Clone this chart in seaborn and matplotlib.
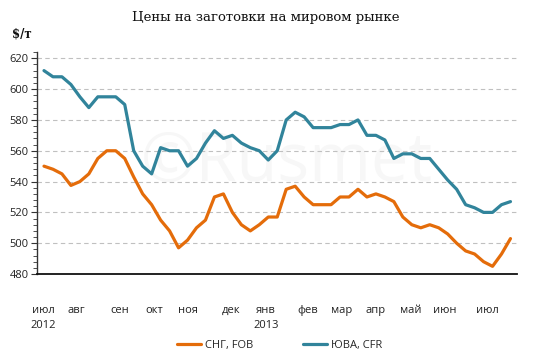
import numpy as np
import pandas as pd
import matplotlib
matplotlib.use("Agg")
import matplotlib.pyplot as plt
import seaborn as sns
from matplotlib.ticker import MultipleLocator

# weekly prices, $/t, July 2012 - July 2013
cis_fob = [550, 548, 545, 537.5, 540, 545, 555, 560, 560, 555,
           543, 532, 525, 515, 508, 497, 502, 510, 515, 530,
           532, 520, 512, 508, 512, 517, 517, 535, 537, 530,
           525, 525, 525, 530, 530, 535, 530, 532, 530, 527,
           517, 512, 510, 512, 510, 506, 500, 495, 493, 488,
           485, 493, 503]
sea_cfr = [612, 608, 608, 603, 595, 588, 595, 595, 595, 590,
           560, 550, 545, 562, 560, 560, 550, 555, 565, 573,
           568, 570, 565, 562, 560, 554, 560, 580, 585, 582,
           575, 575, 575, 577, 577, 580, 570, 570, 567, 555,
           558, 558, 555, 555, 548, 541, 535, 525, 523, 520,
           520, 525, 527]
month_pos = [-0.1, 3.64, 8.43, 12.26, 16.04, 20.84, 24.74, 29.42, 33.2,
             36.99, 40.9, 44.68, 49.47]
month_labels = ["июл\n2012", "авг", "сен", "окт", "ноя", "дек", "янв\n2013",
                "фев", "мар", "апр", "май", "июн", "июл"]
series_names = ["СНГ, FOB", "ЮВА, CFR"]
colors = ["#E46C0A", "#31849B"]

weeks = np.arange(len(cis_fob))
df = pd.DataFrame({
    "week": np.concatenate([weeks, weeks]),
    "price": cis_fob + sea_cfr,
    "series": [series_names[0]] * len(cis_fob) + [series_names[1]] * len(sea_cfr),
})

sns.set_theme(style="white")
plt.rcParams["font.family"] = ["Open Sans", "DejaVu Sans"]

fig = plt.figure(figsize=(5.48, 3.62), dpi=100)
ax = fig.add_axes([0.068, 0.243, 0.875, 0.613])

# faint watermark
ax.text(0.52, 0.5, "©Rusmet", transform=ax.transAxes, fontsize=48,
        color="#f7f7f7", ha="center", va="center", zorder=0)

sns.lineplot(data=df, x="week", y="price", hue="series", palette=colors,
             linewidth=2.3, ax=ax, legend=False, zorder=3)

ax.set_xlim(-0.75, 52.7)
ax.set_ylim(480, 624)
ax.yaxis.set_major_locator(MultipleLocator(20))
ax.yaxis.set_minor_locator(MultipleLocator(4))
ax.set_xticks(month_pos)
ax.set_xticklabels(month_labels, fontsize=8, color="#222222", linespacing=1.6)
ax.tick_params(axis="x", length=0, pad=22)
ax.tick_params(axis="y", which="major", length=4, width=0.8, color="#333333",
               labelsize=8, labelcolor="#222222", pad=2, left=True)
ax.tick_params(axis="y", which="minor", length=3, width=0.6, color="#333333",
               left=True)
for lbl in ax.get_xticklabels():
    lbl.set_verticalalignment("top")
for v in range(500, 621, 20):
    ax.axhline(v, color="#c0c0c0", linestyle=(0, (4, 3)), linewidth=0.8,
               zorder=1)

for s in ["top", "right"]:
    ax.spines[s].set_visible(False)
ax.spines["left"].set_color("#333333")
ax.spines["left"].set_linewidth(1.0)
ax.spines["bottom"].set_color("#111111")
ax.spines["bottom"].set_linewidth(1.3)
ax.set_xlabel("")
ax.set_ylabel("")

fig.text(0.485, 0.953, "Цены на заготовки на мировом рынке",
         family="DejaVu Serif", fontsize=9.5, ha="center", va="center",
         color="#111111")
fig.text(0.022, 0.905, "$/т", family="DejaVu Serif", fontsize=8.5,
         fontweight="bold", ha="left", va="center", color="#111111")

handles = [plt.Line2D([], [], color=c, linewidth=2.3) for c in colors]
fig.legend(handles, series_names, loc="center", bbox_to_anchor=(0.51, 0.045),
           ncol=2, frameon=False, fontsize=8, handlelength=2.2,
           handletextpad=0.3, columnspacing=4.5)

fig.savefig("out.png", dpi=100)
